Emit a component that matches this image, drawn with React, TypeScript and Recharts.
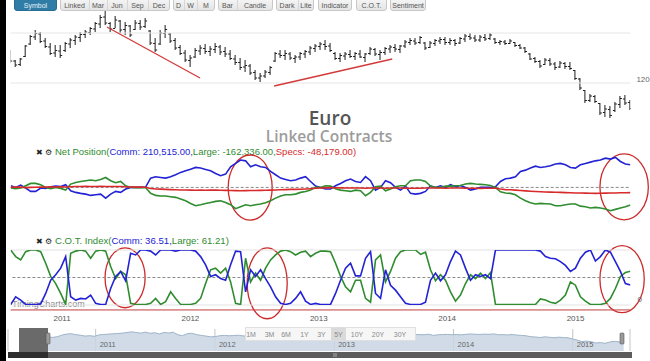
import React from 'react';
import {
  ComposedChart, LineChart, AreaChart, Line, Area, Bar, XAxis, YAxis,
  ReferenceLine, ReferenceArea, CartesianGrid,
} from 'recharts';

// ---------- data ----------
// biweekly sampling, decimal years
const START_YEAR = 2010.6;
const STEP_YEARS = 0.03893;

// Euro futures, price x100
const highs = [
  133.2,129.2,130.0,135.2,139.2,141.2,140.4,138.0,136.0,135.2,
  135.2,136.4,138.0,139.2,140.4,141.2,142.4,144.4,147.2,149.2,
  144.4,146.8,145.2,144.4,143.2,145.2,145.2,146.0,141.2,138.0,
  141.2,143.2,140.0,138.0,135.2,133.2,131.2,134.0,135.2,135.6,
  134.8,136.0,135.2,134.4,133.2,131.2,130.0,129.2,127.6,125.2,
  124.0,125.2,126.8,132.4,133.2,133.2,132.4,131.2,132.4,133.2,
  134.8,135.6,136.4,137.2,136.0,132.4,132.0,132.4,133.2,132.4,
  133.2,132.0,134.4,134.0,133.2,134.4,135.2,135.6,135.2,137.2,
  138.0,138.0,138.8,136.4,136.8,137.6,138.4,138.4,138.0,137.6,
  138.4,139.6,140.0,139.2,139.2,139.6,140.0,138.0,137.2,137.2,
  137.6,136.4,135.6,134.4,132.0,130.4,129.2,130.0,130.0,128.4,
  128.8,128.4,128.4,125.2,122.0,117.2,115.6,115.2,112.0,111.2,
  110.8,112.4,114.8,115.2,113.2,
];
const lows = [
  128.0,126.4,126.8,130.4,135.2,137.2,136.0,134.0,131.2,130.4,
  130.0,132.4,134.0,135.2,136.4,138.0,139.2,140.4,142.0,143.2,
  140.4,142.0,140.0,139.2,138.4,141.2,141.2,142.0,135.2,132.4,
  135.2,138.0,136.0,133.2,131.2,128.4,126.4,130.0,131.2,131.6,
  130.8,132.0,131.2,130.4,129.2,127.2,125.2,124.4,123.2,121.2,
  120.4,122.0,123.2,128.4,130.0,129.2,129.2,128.0,129.2,130.0,
  131.2,132.4,133.2,133.2,132.4,129.2,128.4,129.2,130.0,129.2,
  130.0,128.4,131.2,130.8,129.2,131.2,132.0,132.4,132.0,134.0,
  135.2,135.2,135.6,133.2,134.0,134.8,135.6,135.2,135.2,134.8,
  135.6,136.4,137.2,136.4,136.4,136.8,137.2,135.6,135.2,135.2,
  135.6,134.4,133.6,132.0,129.2,128.0,126.0,127.2,126.8,125.2,
  126.0,125.6,125.2,121.2,117.2,112.0,112.4,112.0,107.2,106.4,
  106.0,108.4,110.0,111.2,109.2,
];
const opens = [
  132.5,128.8,127.4,130.6,135.6,138.4,139.6,136.8,134.4,132.0,
  132.8,133.0,135.6,137.0,138.2,139.4,140.2,141.6,143.6,146.4,
  143.8,141.8,144.8,141.4,142.8,141.4,143.8,142.6,140.8,135.8,
  135.6,139.8,139.6,137.0,134.2,132.0,129.0,130.4,132.8,133.8,
  132.6,133.4,134.4,132.6,131.6,129.6,128.2,126.4,126.8,124.2,
  122.0,122.8,124.2,128.8,131.6,131.0,131.6,129.8,130.4,131.6,
  132.4,133.8,134.6,135.4,134.8,131.8,129.8,130.8,131.4,130.6,
  131.6,130.2,131.8,133.4,131.4,132.2,133.6,134.2,133.4,134.8,
  136.2,136.8,136.2,136.0,134.2,135.8,136.8,137.4,136.2,137.0,
  136.0,137.6,138.6,138.0,137.2,138.2,137.8,137.6,136.2,136.4,
  135.8,136.2,135.0,134.0,131.6,129.8,128.6,127.4,129.0,127.6,
  126.4,127.8,126.6,125.0,121.6,117.0,113.0,114.6,111.8,108.2,
  109.4,109.0,111.4,113.6,112.2,
];
const closes = [
  128.8,127.2,129.6,134.8,138.6,139.8,136.6,134.6,131.8,133.0,
  131.0,135.8,137.2,138.4,139.4,140.4,141.8,143.8,146.2,144.0,
  141.6,145.2,141.2,143.0,139.2,144.0,142.4,144.8,136.0,133.2,
  140.0,141.4,136.8,134.0,131.8,129.2,130.0,133.0,134.0,132.6,
  133.6,134.6,132.4,131.6,129.8,128.2,126.2,127.0,124.0,122.0,
  122.8,124.4,126.2,131.8,131.0,131.8,130.0,130.4,131.8,132.6,
  134.0,134.8,135.6,134.6,133.0,129.8,131.0,131.6,130.6,131.8,
  130.4,131.6,133.6,131.6,132.2,133.8,134.4,133.6,134.8,136.4,
  137.0,136.0,138.2,134.0,136.0,137.0,137.4,136.2,137.0,135.8,
  137.8,138.8,138.0,137.2,138.4,137.6,139.2,136.2,136.6,135.8,
  136.8,135.0,134.0,132.6,129.6,128.6,126.8,129.2,127.6,126.2,
  128.0,126.6,125.8,121.8,118.0,113.0,114.8,112.6,108.0,109.6,
  107.0,111.6,113.8,112.0,109.8,
];

// Net positions, thousands of contracts
const netComm = [
  15,0,22,-6,-37,-37,-6,-9,6,12,
  9,25,-31,-46,-55,-62,-74,-68,-62,-99,
  -62,-37,-46,-15,0,0,0,3,86,99,
  92,86,99,117,139,154,169,185,179,166,
  154,129,108,123,191,222,253,246,191,209,
  191,185,148,117,86,74,62,68,86,99,
  55,12,0,-15,-15,15,37,62,77,55,
  46,99,62,-25,0,62,43,0,-25,12,
  -55,-62,-55,-37,15,0,15,0,25,6,
  18,0,-25,-15,0,0,0,6,55,80,
  86,99,148,160,179,197,185,191,200,216,
  222,209,185,179,209,222,234,246,253,271,
  262,277,240,216,210.515,
];
const netLarge = [
  -6,-12,-6,15,37,37,25,0,-12,0,
  -9,-25,31,46,55,62,68,62,74,92,
  62,43,55,15,0,-3,0,-3,-55,-74,
  -80,-80,-86,-92,-108,-123,-148,-169,-160,-148,
  -139,-129,-123,-139,-160,-197,-179,-160,-169,-160,
  -154,-142,-123,-99,-80,-68,-68,-62,-46,-37,
  -25,0,0,15,12,-12,-25,-31,-37,-25,
  -31,-77,-46,6,12,-31,-15,6,15,15,
  62,68,68,55,12,0,0,12,12,15,
  18,31,37,31,28,25,18,0,-40,-52,
  -55,-68,-99,-123,-142,-154,-148,-151,-154,-169,
  -169,-160,-154,-154,-173,-179,-191,-185,-191,-200,
  -216,-203,-191,-179,-162.336,
];
const netSpecs = [
  2,4,3,-2,0,2,3,4,5,4,6,4,
  6,8,9,10,9,8,10,9,8,9,8,6,4,3,3,2,
  -10,-15,-16,-18,-20,-22,-24,-24,-25,-26,
  -25,-26,-24,-25,-26,-27,-28,-30,-31,-30,
  -29,-28,-27,-26,-25,-24,-22,-20,-18,-18,
  -17,-15,-12,-8,-5,
  -4,-2,-3,-4,-5,-6,-5,-6,-7,-6,
  -5,-6,-7,-6,-5,-6,-7,-8,-8,-7,
  -6,-5,-5,-6,-7,-6,-5,-6,-7,-8,
  -8,-9,-8,-7,-8,
  -15,-20,-22,-25,-28,-32,-35,-38,-40,-42,
  -44,-45,-46,-48,-50,-51,-52,-53,-54,-55,
  -54,-53,-52,-51,-50,-49,-48.179,
];

// C.O.T. index (0-100)
const cotComm = [
  1,15,9,1,1,1,2,21,45,55,
  67,88,15,9,12,11,18,3,1,1,
  30,52,61,44,94,91,100,100,98,91,
  100,100,100,98,100,100,100,98,88,73,
  52,55,48,45,73,98,97,24,64,52,
  64,48,33,15,3,1,3,12,24,7,
  1,3,1,1,1,21,45,67,76,53,
  53,85,97,21,12,64,36,27,15,3,
  1,1,1,5,45,58,44,55,79,98,
  91,67,45,55,52,55,48,100,100,100,
  100,100,100,100,100,100,98,88,85,84,
  79,72,61,67,85,96,100,80,88,100,
  96,79,61,39,36.51,
];
const cotLarge = [
  100,88,82,97,100,100,97,76,52,39,
  21,1,94,98,100,98,85,98,100,98,
  70,48,61,55,3,1,1,1,3,12,
  1,6,24,12,1,1,1,3,12,39,
  64,67,58,67,42,3,1,85,42,58,
  45,67,82,91,98,100,97,91,96,98,
  88,94,98,98,97,76,52,33,24,45,
  45,12,5,82,91,42,61,85,97,100,
  100,100,92,96,64,44,55,45,24,7,
  18,39,55,48,58,48,59,1,1,1,
  1,1,1,1,1,1,11,9,5,3,
  9,18,42,36,15,7,1,1,1,3,
  12,30,52,59,61.21,
];

const yearTicks = [2011, 2012, 2013, 2014, 2015];
const rangeButtons = ['1M', '3M', '6M', '1Y', '3Y', '5Y', '10Y', '20Y', '30Y'];
const selectedRange = '5Y';
const toolbarGroups = [
  ['Symbol'], ['Linked', 'Mar', 'Jun', 'Sep', 'Dec'], ['D', 'W', 'M'],
  ['Bar', 'Candle'], ['Dark', 'Lite'], ['Indicator'], ['C.O.T.'], ['Sentiment'],
];
const netLegend = { title: 'Net Position', comm: '210,515.00', large: '-162,336.00', specs: '-48,179.00' };
const cotLegend = { title: 'C.O.T. Index', comm: '36.51', large: '61.21' };

// trend-line annotations [year, price] and ellipse annotations [x1, x2, y1, y2]
const trendLines = [
  [[2011.35, 142.4], [2012.075, 122.0]],
  [[2012.652, 118.8], [2013.572, 129.6]],
];
const netCircles = [[2012.294, 2012.637, 300, -302], [2015.19, 2015.567, 310, -300]];
const cotCircles = [[2011.335, 2011.647, 104, -5], [2012.442, 2012.754, 104, -25], [2015.19, 2015.535, 108, -14]];

// ---------- build rows ----------
const dates = highs.map((_, i) => +(START_YEAR + i * STEP_YEARS).toFixed(4));
const X_MIN = dates[0];
const X_MAX = dates[dates.length - 1];
const priceRows = dates.map((t, i) => ({
  t, range: [lows[i], highs[i]], high: highs[i], low: lows[i], open: opens[i], close: closes[i],
}));
const netRows = dates.map((t, i) => ({ t, comm: netComm[i], large: netLarge[i], specs: netSpecs[i] }));
const cotRows = dates.map((t, i) => ({ t, comm: cotComm[i], large: cotLarge[i] }));

const BLUE = '#2323d4';
const GREEN = '#2f8c2f';
const RED = '#d82a2a';
const FONT = '"Liberation Sans", Arial, sans-serif';

const OhlcShape = (props: any) => {
  const { x, y, width, height, payload } = props;
  if (!payload) return null;
  const top = Math.min(y, y + height);
  const h = Math.abs(height);
  const cx = x + width / 2;
  const rng = payload.high - payload.low || 1;
  const oy = top + ((payload.high - payload.open) / rng) * h;
  const cy = top + ((payload.high - payload.close) / rng) * h;
  return (
    <g stroke="#1e1e1e" strokeWidth={1}>
      <line x1={cx} y1={top} x2={cx} y2={top + h} />
      <line x1={cx - 2} y1={oy} x2={cx} y2={oy} />
      <line x1={cx} y1={cy} x2={cx + 2} y2={cy} />
    </g>
  );
};

const EllipseShape = (p: any) => (
  <ellipse
    cx={p.x + p.width / 2}
    cy={p.y + p.height / 2}
    rx={Math.abs(p.width) / 2}
    ry={Math.abs(p.height) / 2}
    fill="none"
    stroke="#cc2a2a"
    strokeWidth={1.3}
  />
);

const makeRightTick = (dy: number) => (props: any) => (
  <text x={props.x} y={props.y + dy} fontSize={8} fill="#666" fontFamily={FONT} textAnchor="start" dominantBaseline="middle">
    {props.payload.value}
  </text>
);

const NavTick = (props: any) => (
  <text x={props.x + 4} y={props.y - 4} fontSize={7.5} fill="#666" fontFamily={FONT}>
    {props.payload.value}
  </text>
);

const PLOT_LEFT = 10.7;
const PLOT_RIGHT_GAP = 19.6;

const Toolbar = () => {
  const boxes = [
    [[14, 57]],
    [[60, 89], [89, 107], [107, 127], [127, 148], [148, 170]],
    [[173, 184], [184, 197], [197, 215]],
    [[218, 237], [237, 273]],
    [[276, 298], [298, 314]],
    [[318, 352]],
    [[356, 387]],
    [[390, 426]],
  ];
  return (
    <svg width={650} height={14} style={{ position: 'absolute', left: 0, top: 0 }}>
      <defs>
        <linearGradient id="btn" x1="0" y1="0" x2="0" y2="1">
          <stop offset="0" stopColor="#f8f8f8" />
          <stop offset="1" stopColor="#e4e4e4" />
        </linearGradient>
      </defs>
      {toolbarGroups.map((g, gi) => {
        const gb = boxes[gi];
        const x0 = gb[0][0];
        const x1 = gb[gb.length - 1][1];
        const active = gi === 0;
        return (
          <g key={gi}>
            <rect x={x0 + 0.5} y={-3} width={x1 - x0 - 1} height={13.5} rx={2.5}
              fill={active ? '#2f7da6' : 'url(#btn)'} stroke={active ? '#286c90' : '#c8c8c8'} />
            {g.map((label, li) => {
              const [a, b] = gb[li];
              return (
                <g key={label}>
                  {li > 0 && <line x1={a + 0.5} y1={0} x2={a + 0.5} y2={10} stroke="#d6d6d6" />}
                  <text x={(a + b) / 2} y={7.6} textAnchor="middle" fontSize={7}
                    fill={active ? '#e6f2f8' : '#555'} fontFamily={FONT}>{label}</text>
                </g>
              );
            })}
          </g>
        );
      })}
    </svg>
  );
};

export default function App() {
  return (
    <div style={{ position: 'absolute', left: 0, top: 0, width: 650, height: 361, background: '#fff', overflow: 'hidden', fontFamily: FONT }}>
      {/* watermark behind the C.O.T. lines */}
      <svg width={650} height={361} style={{ position: 'absolute', left: 0, top: 0 }}>
        <text x={12} y={307} fontSize={9} fill="#8a8a8a" fontFamily={FONT}>TimingCharts.com</text>
      </svg>

      {/* price chart */}
      <div style={{ position: 'absolute', left: 0, top: 0 }}>
        <ComposedChart width={650} height={130} data={priceRows}
          margin={{ top: 6, right: 0, bottom: 4, left: PLOT_LEFT }}>
          <XAxis type="number" dataKey="t" domain={[X_MIN, X_MAX]} allowDataOverflow hide />
          <YAxis orientation="right" width={PLOT_RIGHT_GAP} domain={[102.8, 150.8]} allowDataOverflow
            ticks={[120]} axisLine={false} tickLine={false} tickSize={0} tickMargin={6} tick={makeRightTick(-3)} />
          <ReferenceLine y={140} stroke="#e6e6e6" />
          <ReferenceLine y={120} stroke="#e6e6e6" />
          <Bar dataKey="range" barSize={4} shape={OhlcShape} isAnimationActive={false} />
          {trendLines.map((seg, k) => (
            <ReferenceLine key={k} ifOverflow="visible" stroke="#d23a3a" strokeWidth={1.3}
              segment={[{ x: seg[0][0], y: seg[0][1] }, { x: seg[1][0], y: seg[1][1] }]} />
          ))}
        </ComposedChart>
      </div>

      {/* titles and legends */}
      <svg width={650} height={250} style={{ position: 'absolute', left: 0, top: 0 }}>
        <text x={330} y={125} textAnchor="middle" fontSize={19} fontWeight={600} fill="#555" fontFamily='"Open Sans", sans-serif'>Euro</text>
        <text x={329} y={142} textAnchor="middle" fontSize={15.5} fontWeight={600} fill="#9c9c9c" fontFamily='"Open Sans", sans-serif'>Linked Contracts</text>
        <text x={36} y={155} fontSize={8} fill="#222" fontFamily='"DejaVu Sans", sans-serif'>✖</text>
        <text x={45} y={155} fontSize={8} fill="#222" fontFamily='"DejaVu Sans", sans-serif'>⚙</text>
        <text x={55} y={155} fontSize={9.5} fontFamily={FONT}>
          <tspan fill={GREEN}>{netLegend.title}(</tspan>
          <tspan fill={BLUE}>Comm: {netLegend.comm},</tspan>
          <tspan fill={GREEN}>Large: {netLegend.large},</tspan>
          <tspan fill={RED}>Specs: {netLegend.specs})</tspan>
        </text>
        <text x={36} y={244} fontSize={8} fill="#222" fontFamily='"DejaVu Sans", sans-serif'>✖</text>
        <text x={45} y={244} fontSize={8} fill="#222" fontFamily='"DejaVu Sans", sans-serif'>⚙</text>
        <text x={55} y={244} fontSize={9.6} fontFamily={FONT}>
          <tspan fill={GREEN}>{cotLegend.title}(</tspan>
          <tspan fill={BLUE}>Comm: {cotLegend.comm},</tspan>
          <tspan fill={GREEN}>Large: {cotLegend.large})</tspan>
        </text>
      </svg>

      {/* net position panel */}
      <div style={{ position: 'absolute', left: 0, top: 150 }}>
        <LineChart width={650} height={80} data={netRows}
          margin={{ top: 5, right: PLOT_RIGHT_GAP, bottom: 8, left: PLOT_LEFT }}>
          <XAxis type="number" dataKey="t" domain={[X_MIN, X_MAX]} allowDataOverflow hide />
          <YAxis domain={[-320, 300]} allowDataOverflow hide />
          <ReferenceLine y={0} stroke="#8a8a8a" strokeDasharray="3 2" />
          <Line dataKey="comm" stroke={BLUE} strokeWidth={1.6} dot={false} isAnimationActive={false} />
          <Line dataKey="large" stroke={GREEN} strokeWidth={1.6} dot={false} isAnimationActive={false} />
          <Line dataKey="specs" stroke={RED} strokeWidth={1.6} dot={false} isAnimationActive={false} />
          {netCircles.map((c, k) => (
            <ReferenceArea key={k} x1={c[0]} x2={c[1]} y1={c[2]} y2={c[3]} ifOverflow="visible" shape={EllipseShape} />
          ))}
        </LineChart>
      </div>

      {/* C.O.T. index panel */}
      <div style={{ position: 'absolute', left: 0, top: 240 }}>
        <LineChart width={650} height={100} data={cotRows}
          margin={{ top: 10, right: 0, bottom: 15, left: PLOT_LEFT }}>
          <XAxis type="number" dataKey="t" domain={[X_MIN, X_MAX]} allowDataOverflow ticks={yearTicks}
            height={20} axisLine={false} tickLine={false} tickSize={0} tickMargin={10}
            tick={{ fontSize: 8, fill: '#555', fontFamily: FONT }} />
          <YAxis orientation="right" width={PLOT_RIGHT_GAP} domain={[0, 100]} allowDataOverflow
            ticks={[0]} axisLine={false} tickLine={false} tickSize={0} tickMargin={7} tick={makeRightTick(-5)} />
          <ReferenceLine y={100} stroke="#e2e2e2" />
          <ReferenceLine y={0} stroke="#e2e2e2" />
          <ReferenceLine y={50} stroke="#8a8a8a" strokeDasharray="3 2" />
          <ReferenceLine y={-9} stroke="#c23b3b" ifOverflow="visible" />
          <Line dataKey="large" stroke={GREEN} strokeWidth={1.6} dot={false} isAnimationActive={false} />
          <Line dataKey="comm" stroke={BLUE} strokeWidth={1.6} dot={false} isAnimationActive={false} />
          {cotCircles.map((c, k) => (
            <ReferenceArea key={k} x1={c[0]} x2={c[1]} y1={c[2]} y2={c[3]} ifOverflow="visible" shape={EllipseShape} />
          ))}
        </LineChart>
      </div>

      {/* navigator */}
      <div style={{ position: 'absolute', left: 0, top: 325 }}>
        <AreaChart width={650} height={40} data={priceRows}
          margin={{ top: 4, right: 20, bottom: 4, left: 8 }}>
          <CartesianGrid vertical horizontal={false} stroke="#c4c4c4" />
          <XAxis type="number" dataKey="t" domain={[2010.265, 2015.48]} allowDataOverflow ticks={yearTicks}
            height={10} axisLine={false} tickLine={false} tickSize={0} tickMargin={0} tick={NavTick} />
          <YAxis domain={[81, 155.8]} allowDataOverflow hide />
          <Area dataKey="close" type="linear" stroke="#9fb3c9" strokeWidth={1} fill="#c8d5e3" fillOpacity={0.85} isAnimationActive={false} />
        </AreaChart>
      </div>

      {/* navigator chrome */}
      <svg width={650} height={361} style={{ position: 'absolute', left: 0, top: 0 }}>
        <rect x={19} y={328} width={29} height={24} fill="#6a6a6a" />
        <rect x={46} y={333} width={4} height={11} rx={1} fill="#9a9a9a" stroke="#555" strokeWidth={0.6} />
        <rect x={620} y={333} width={4} height={11} rx={1} fill="#9a9a9a" stroke="#555" strokeWidth={0.6} />
        <rect x={245.5} y={327.5} width={170} height={13} fill="#f6f6f6" stroke="#e0e0e0" />
        {rangeButtons.map((b, k) => {
          const centers = [251, 269.5, 286, 304.5, 321.5, 338.5, 357, 378, 400];
          const sel = b === selectedRange;
          return (
            <g key={b}>
              {sel && <rect x={331} y={327.5} width={15} height={13} fill="#dadada" />}
              <text x={centers[k]} y={337} textAnchor="middle" fontSize={7} fill="#8a8a8a" fontFamily={FONT}>{b}</text>
            </g>
          );
        })}
        <rect x={8} y={352} width={624} height={6} fill="#5c5c5c" />
        <rect x={8} y={352} width={40} height={6} fill="#2e2e2e" />
        <line x1={334} y1={353} x2={334} y2={357} stroke="#aaa" />
        <line x1={336} y1={353} x2={336} y2={357} stroke="#aaa" />
      </svg>

      <Toolbar />
      <div style={{ position: 'absolute', left: 0, top: 0, width: 6, height: 361, background: '#000' }} />
    </div>
  );
}
